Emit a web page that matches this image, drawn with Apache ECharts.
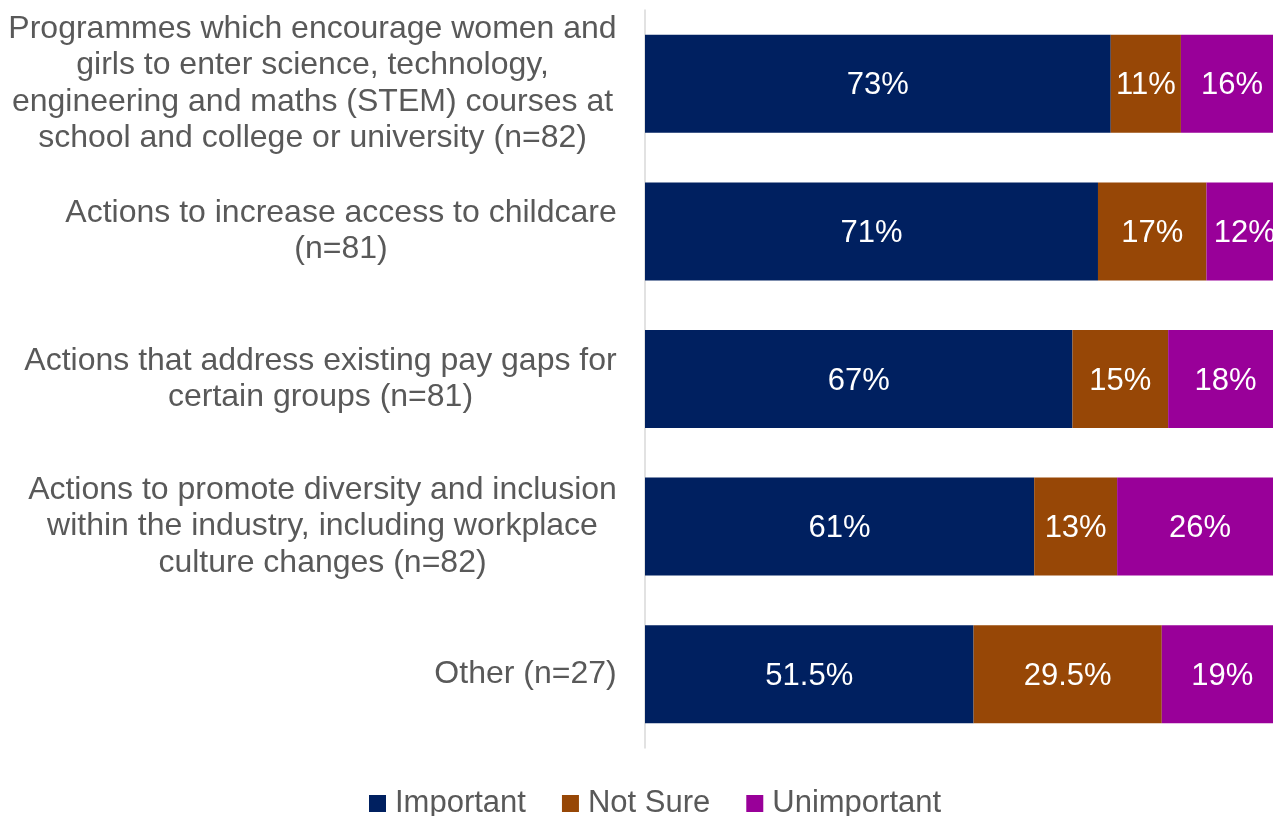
<!DOCTYPE html>
<html>
<head>
<meta charset="utf-8">
<script src="https://cdn.jsdelivr.net/npm/echarts@6/dist/echarts.min.js"></script>
<style>
  html, body { margin: 0; padding: 0; background: #ffffff; overflow: hidden; }
  /* the plot runs slightly past the right edge of the page */
  #chart { width: 1283px; height: 816px; }
</style>
</head>
<body>
<div id="chart"></div>
<script>
// Survey items (top to bottom)
const categories = [
  ['Programmes which encourage women and', 'girls to enter science, technology,', 'engineering and maths (STEM) courses at', 'school and college or university (n=82)'],
  ['Actions to increase access to childcare', '(n=81)'],
  ['Actions that address existing pay gaps for', 'certain groups (n=81)'],
  ['Actions to promote diversity and inclusion', 'within the industry, including workplace', 'culture changes (n=82)'],
  ['Other (n=27)']
];

// Share of responses, in percent
const important   = [73, 71, 67, 61, 51.5];
const notSure     = [11, 17, 15, 13, 29.5];
const unimportant = [16, 12, 18, 26, 19];

const seriesNames = ['Important', 'Not Sure', 'Unimportant'];
const colors = ['#002060', '#974706', '#990099'];

const FONT = '"Liberation Sans", Arial, sans-serif';
const LABEL_SIZE = 32;
const VALUE_SIZE = 31;

// Each label block is centred on its widest line, and the block is right-aligned to the axis.
const measureCtx = document.createElement('canvas').getContext('2d');
measureCtx.font = LABEL_SIZE + 'px ' + FONT;
const rich = {};
categories.forEach((lines, i) => {
  const w = Math.max(...lines.map(l => measureCtx.measureText(l).width));
  rich['c' + i] = {
    width: Math.ceil(w),
    align: 'center',
    fontSize: LABEL_SIZE,
    fontFamily: FONT,
    color: '#595959',
    lineHeight: 36.5
  };
});
const categoryKeys = categories.map((_, i) => String(i));

const chart = echarts.init(document.getElementById('chart'), null, { renderer: 'canvas' });

const makeSeries = (name, data, color) => ({
  name: name,
  type: 'bar',
  stack: 'total',
  data: data,
  barCategoryGap: '33.6%',
  itemStyle: { color: color },
  label: {
    show: true,
    position: 'inside',
    offset: [0, 2],
    color: '#ffffff',
    fontSize: VALUE_SIZE,
    fontFamily: FONT,
    formatter: p => p.value + '%'
  },
  emphasis: { disabled: true }
});

chart.setOption({
  animation: false,
  backgroundColor: '#ffffff',
  color: colors,
  grid: { left: 645, top: 10, width: 638, height: 738, containLabel: false },
  xAxis: {
    type: 'value',
    min: 0,
    max: 100,
    show: false
  },
  yAxis: {
    type: 'category',
    inverse: true,
    data: categoryKeys,
    axisLine: { show: true, lineStyle: { color: '#d9d9d9', width: 1.5 } },
    axisTick: { show: false },
    splitLine: { show: false },
    axisLabel: {
      interval: 0,
      margin: 28,
      align: 'right',
      formatter: v => categories[+v].map(l => '{c' + v + '|' + l + '}').join('\n'),
      rich: rich
    }
  },
  legend: {
    data: seriesNames,
    left: 369,
    top: 788,
    padding: 0,
    icon: 'rect',
    itemWidth: 17,
    itemHeight: 17,
    itemGap: 36,
    textStyle: {
      fontSize: VALUE_SIZE,
      fontFamily: FONT,
      color: '#595959',
      padding: [0, 0, 0, 4]
    }
  },
  series: [
    makeSeries(seriesNames[0], important, colors[0]),
    makeSeries(seriesNames[1], notSure, colors[1]),
    makeSeries(seriesNames[2], unimportant, colors[2])
  ]
});
</script>
</body>
</html>
